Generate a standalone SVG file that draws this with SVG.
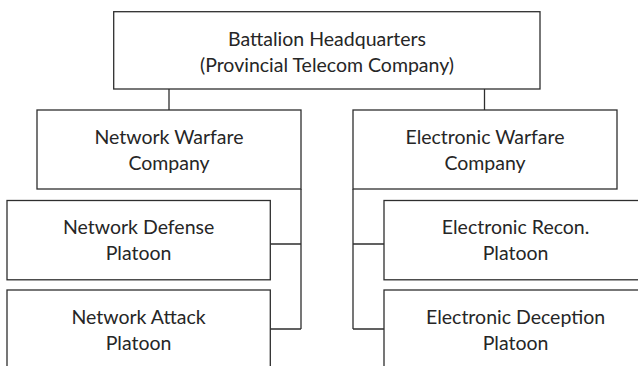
<svg xmlns="http://www.w3.org/2000/svg" width="638" height="366" viewBox="0 0 638 366">
  <style>
    .box { fill: #ffffff; stroke: #2e2e2e; stroke-width: 1.3; }
    .wire { fill: none; stroke: #2e2e2e; stroke-width: 1.3; }
    .label { font-family: Lato, "Open Sans", "Liberation Sans", sans-serif; font-size: 19.5px; fill: #262626; text-anchor: middle; }
  </style>
  <rect width="638" height="366" fill="#ffffff"/>

  <!-- connectors -->
  <g id="connectors" class="wire">
    <path d="M169 89 V110"/>
    <path d="M484.5 89 V110"/>
    <path d="M301 189 V329 M270 244 H301 M270 329 H301"/>
    <path d="M353 189 V329 M353 244 H384 M353 329 H384"/>
  </g>

  <g id="hq">
    <rect class="box" x="113.7" y="11.7" width="426.3" height="77.3"/>
    <text class="label" x="327" y="45.5">Battalion Headquarters</text>
    <text class="label" x="327" y="71.5">(Provincial Telecom Company)</text>
  </g>

  <g id="network-warfare">
    <rect class="box" x="37" y="110" width="264" height="79"/>
    <text class="label" x="169" y="143.5">Network Warfare</text>
    <text class="label" x="169" y="169.5">Company</text>
  </g>

  <g id="electronic-warfare">
    <rect class="box" x="353" y="110" width="264" height="79"/>
    <text class="label" x="485" y="143.5">Electronic Warfare</text>
    <text class="label" x="485" y="169.5">Company</text>
  </g>

  <g id="network-defense">
    <rect class="box" x="7" y="200.5" width="263.3" height="79.3"/>
    <text class="label" x="138.6" y="233.5">Network Defense</text>
    <text class="label" x="138.6" y="259.5">Platoon</text>
  </g>

  <g id="network-attack">
    <rect class="box" x="7" y="290" width="263.3" height="82"/>
    <text class="label" x="138.6" y="323.5">Network Attack</text>
    <text class="label" x="138.6" y="349.5">Platoon</text>
  </g>

  <g id="electronic-recon">
    <rect class="box" x="384" y="200.5" width="263.3" height="79.3"/>
    <text class="label" x="515.6" y="233.5">Electronic Recon.</text>
    <text class="label" x="515.6" y="259.5">Platoon</text>
  </g>

  <g id="electronic-deception">
    <rect class="box" x="384" y="290" width="263.3" height="82"/>
    <text class="label" x="515.6" y="323.5">Electronic Deception</text>
    <text class="label" x="515.6" y="349.5">Platoon</text>
  </g>
</svg>
